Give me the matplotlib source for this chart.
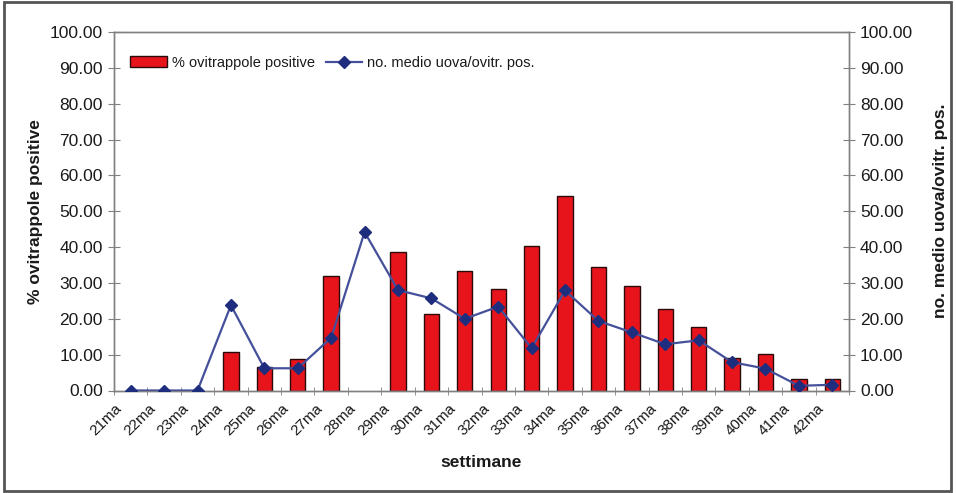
import matplotlib.pyplot as plt
import matplotlib.transforms as mtransforms
from matplotlib.patches import Rectangle
import numpy as np

plt.rcParams['font.family'] = ['Liberation Sans', 'DejaVu Sans']

# --- DATA ---
weeks = ['21ma', '22ma', '23ma', '24ma', '25ma', '26ma', '27ma', '28ma',
         '29ma', '30ma', '31ma', '32ma', '33ma', '34ma', '35ma', '36ma',
         '37ma', '38ma', '39ma', '40ma', '41ma', '42ma']
pct_positive = [0, 0, 0, 10.7, 6.5, 8.8, 31.9, 0,
                38.6, 21.2, 33.3, 28.3, 40.2, 54.2, 34.4, 29.2,
                22.7, 17.8, 9.2, 10.2, 3.1, 3.1]
mean_eggs = [0, 0, 0, 23.8, 6.2, 6.2, 14.7, 44.2,
             28.0, 25.7, 20.0, 23.4, 11.8, 27.9, 19.4, 16.2,
             12.9, 14.0, 7.9, 6.1, 1.3, 1.6]
y_ticks = np.arange(0, 101, 10)

BAR_RED = '#e8141c'
LINE_BLUE = '#44509a'
MARK_BLUE = '#1f2d7e'
SPINE = '#808080'
TEXT = '#1a1a1a'

fig = plt.figure(figsize=(9.56, 4.93), dpi=100)
ax = fig.add_axes([114 / 956, 1 - 390.5 / 493, 735 / 956, 358.5 / 493])
ax2 = ax.twinx()

x = np.arange(len(weeks))
pct = np.array(pct_positive, dtype=float)
# weeks with no positive traps get no bar at all (not even an outline)
shown = pct > 0
bars = ax.bar(x[shown], pct[shown], width=0.46, color=BAR_RED, edgecolor='#2a0a0a',
              linewidth=1.0, label='% ovitrappole positive', zorder=2)
line, = ax2.plot(x, mean_eggs, color=LINE_BLUE, linewidth=1.6, marker='D',
                 markersize=6, markerfacecolor=MARK_BLUE, markeredgecolor=MARK_BLUE,
                 label='no. medio uova/ovitr. pos.', zorder=3)

for a in (ax, ax2):
    a.set_xlim(-0.5, len(weeks) - 0.5)
    a.set_ylim(0, 100)
    a.set_yticks(y_ticks)
    a.set_yticklabels([f'{v:.2f}' for v in y_ticks])
    for s in a.spines.values():
        s.set_color(SPINE)
        s.set_linewidth(1.0)

ax.tick_params(axis='y', direction='inout', length=8, color=SPINE,
               labelsize=12.5, labelcolor=TEXT, pad=4)
ax2.tick_params(axis='y', direction='inout', length=8, color=SPINE,
                labelsize=12.5, labelcolor=TEXT, pad=4)

# week labels at the category centres, tick marks on the boundaries
ax.set_xticks(x)
ax.set_xticklabels(weeks, rotation=45, ha='right', fontsize=11, color=TEXT)
ax.set_xticks(np.arange(-0.5, len(weeks), 1), minor=True)
ax.tick_params(axis='x', which='major', length=0, pad=8)
ax.tick_params(axis='x', which='minor', direction='inout', length=6, color=SPINE)
shift = mtransforms.ScaledTranslation(-6 / 100, 0, fig.dpi_scale_trans)
for lbl in ax.get_xticklabels():
    lbl.set_transform(lbl.get_transform() + shift)

ax.set_xlabel('settimane', fontsize=12.5, fontweight='bold', color=TEXT, labelpad=12)
ax.set_ylabel('% ovitrappole positive', fontsize=12.5, fontweight='bold',
              color=TEXT, labelpad=5)
ax2.set_ylabel('no. medio uova/ovitr. pos.', fontsize=12.5, fontweight='bold',
               color=TEXT, labelpad=14)

leg = ax.legend([bars, line], ['% ovitrappole positive', 'no. medio uova/ovitr. pos.'],
                loc='upper left', bbox_to_anchor=(0.014, 0.95), ncol=2, frameon=False,
                fontsize=10.5, handlelength=2.5, handleheight=0.75, columnspacing=0.75,
                handletextpad=0.35, borderaxespad=0)
for t in leg.get_texts():
    t.set_color(TEXT)

# outer border around the whole chart
fig.patches.append(Rectangle((4 / 956, 2 / 493), 947 / 956, 489 / 493,
                             transform=fig.transFigure, fill=False,
                             edgecolor='#555555', linewidth=2))

fig.savefig('out.png', dpi=100)
